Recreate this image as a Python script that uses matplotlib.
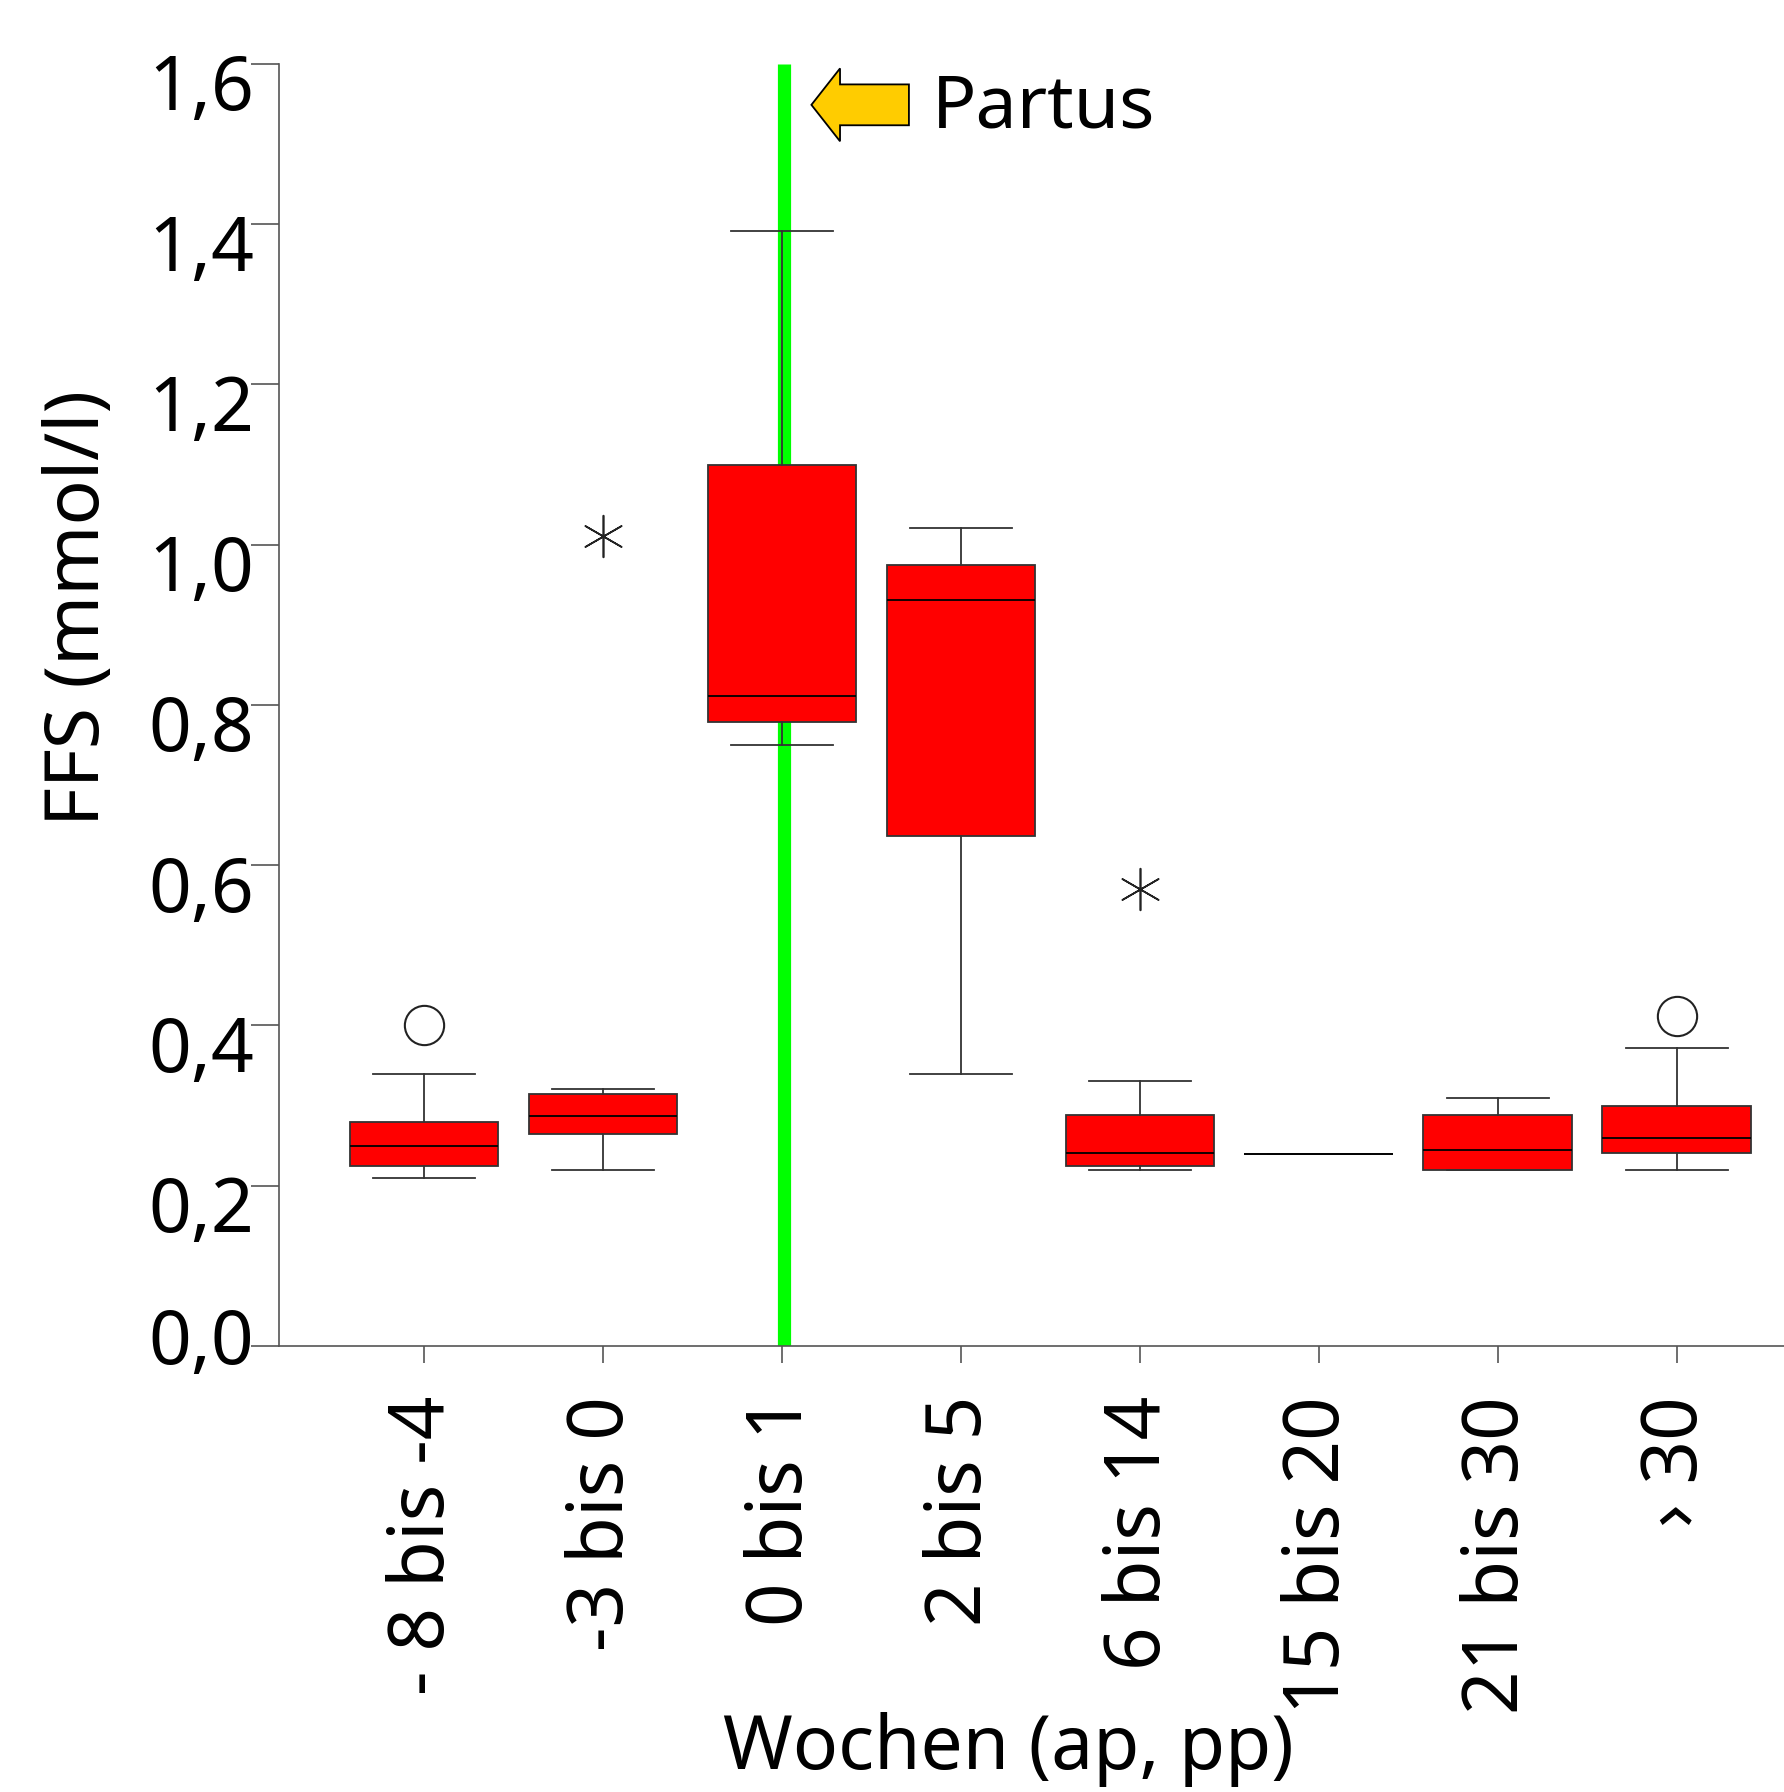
import numpy as np
import matplotlib.pyplot as plt
import matplotlib.transforms as mtransforms
from matplotlib.patches import FancyArrow

plt.rcParams['font.family'] = ['Noto Sans', 'DejaVu Sans']

# Gruppen (Wochen ante / post partum)
categories = ['- 8 bis -4', '-3 bis 0', '0 bis 1', '2 bis 5',
              '6 bis 14', '15 bis 20', '21 bis 30', '› 30']

# Boxplot-Kennwerte
whislo = [0.210, 0.220, 0.750, 0.339, 0.220, 0.240, 0.220, 0.220]
q1     = [0.225, 0.265, 0.779, 0.636, 0.225, 0.240, 0.220, 0.241]
med    = [0.250, 0.287, 0.811, 0.931, 0.241, 0.240, 0.244, 0.260]
q3     = [0.280, 0.315, 1.100, 0.975, 0.288, 0.240, 0.288, 0.300]
whishi = [0.339, 0.321, 1.392, 1.021, 0.331, 0.240, 0.309, 0.372]

# Ausreißer: Kreise (mild) und Sterne (extrem)
circle_pos = [1, 8]
circle_val = [0.401, 0.412]
star_pos = [2, 5]
star_val = [1.011, 0.570]

partus_x = 3.01


def main():
    fig = plt.figure(figsize=(17.84, 17.92), dpi=100)
    ax = fig.add_axes([0.1564, 0.2489, 0.8436, 0.7154])

    stats = []
    for i in range(len(categories)):
        stats.append({'whislo': whislo[i], 'q1': q1[i], 'med': med[i],
                      'q3': q3[i], 'whishi': whishi[i], 'fliers': []})

    # Partus-Linie hinter den Boxen
    ax.plot([partus_x, partus_x], [0, 1.6], color='#00ff00', lw=9.5,
            solid_capstyle='butt', zorder=1)

    ax.bxp(stats, positions=np.arange(1, len(categories) + 1), widths=0.83,
           patch_artist=True, showfliers=False,
           boxprops=dict(facecolor='#ff0000', edgecolor='#333333', lw=1.3),
           medianprops=dict(color='black', lw=1.3),
           whiskerprops=dict(color='#333333', lw=1.3),
           capprops=dict(color='#333333', lw=1.3),
           capwidths=0.57, zorder=2)

    ax.scatter(circle_pos, circle_val, s=800, facecolor='white',
               edgecolor='#222222', lw=1.5, zorder=3)
    ax.scatter(star_pos, star_val, s=900, marker=(6, 2, 0),
               color='#222222', lw=1.2, zorder=3)

    # Pfeil + Beschriftung "Partus"
    arr = FancyArrow(3.71, 1.549, -0.545, 0, width=0.051, head_width=0.091,
                     head_length=0.16, length_includes_head=True,
                     facecolor='#ffcc00', edgecolor='black', lw=1.3,
                     clip_on=False, zorder=4)
    ax.add_patch(arr)
    ax.text(3.84, 1.545, 'Partus', fontsize=53, va='center', ha='left')

    ax.set_xlim(0.19, 8.6)
    ax.set_ylim(0, 1.6)
    ax.set_xticks(np.arange(1, len(categories) + 1))
    ax.set_xticklabels(categories, rotation=90, fontsize=55)
    yt = np.arange(0, 1.61, 0.2)
    ax.set_yticks(yt)
    ax.set_yticklabels([f'{v:.1f}'.replace('.', ',') for v in yt], fontsize=54)
    ax.tick_params(axis='y', length=20, width=1.2, color='#555555', pad=-2)
    ax.tick_params(axis='x', length=12, width=1.2, color='#555555', pad=24)

    # y-Beschriftungen sitzen in der Vorlage etwas unter dem Tick
    for i, lab in enumerate(ax.get_yticklabels()):
        dy = 0.10 if i == 0 else -0.18
        lab.set_transform(lab.get_transform() +
                          mtransforms.ScaledTranslation(0, dy, fig.dpi_scale_trans))

    for s in ['top', 'right']:
        ax.spines[s].set_visible(False)
    for s in ['left', 'bottom']:
        ax.spines[s].set_color('#555555')
        ax.spines[s].set_linewidth(1.2)

    fig.text(80 / 1784, 1 - 608 / 1792, 'FFS (mmol/l)', fontsize=54,
             rotation=90, ha='center', va='center')
    fig.text(0.565, 0.003, 'Wochen (ap, pp)', fontsize=54, ha='center',
             va='bottom')

    fig.savefig('out.png', dpi=100)


if __name__ == "__main__":
    main()
